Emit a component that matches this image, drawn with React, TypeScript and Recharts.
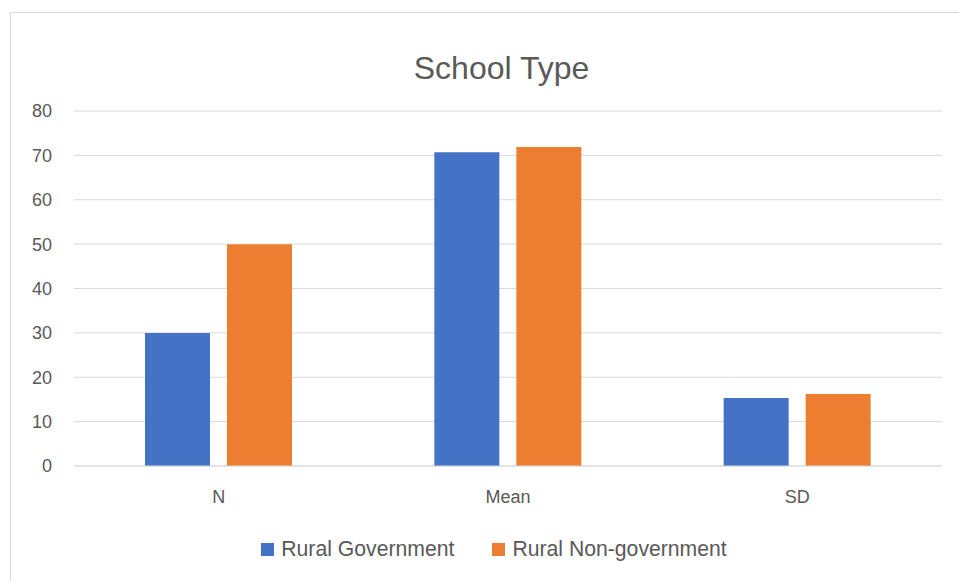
import React from 'react';
import { BarChart, Bar, XAxis, YAxis, CartesianGrid, Legend } from 'recharts';

const categories = ['N', 'Mean', 'SD'];
const ruralGovernment = [30, 70.7, 15.3];
const ruralNonGovernment = [50, 71.9, 16.2];
const yTicks = [0, 10, 20, 30, 40, 50, 60, 70, 80];

const SERIES = [
  { key: 'gov', name: 'Rural Government', color: '#4472C4' },
  { key: 'nonGov', name: 'Rural Non-government', color: '#ED7D31' },
];

const data = categories.map((c, i) => ({
  name: c,
  gov: ruralGovernment[i],
  nonGov: ruralNonGovernment[i],
}));

const FONT = '"Liberation Sans", Arial, sans-serif';
const TEXT = '#595959';

const LegendContent = () => (
  <div style={{ display: 'flex', justifyContent: 'center', gap: 38, fontFamily: FONT, fontSize: 21.2, lineHeight: '24px', color: TEXT }}>
    {SERIES.map((s) => (
      <div key={s.key} style={{ display: 'flex', alignItems: 'center' }}>
        <span style={{ width: 13, height: 13, background: s.color, display: 'inline-block', marginRight: 7 }} />
        <span>{s.name}</span>
      </div>
    ))}
  </div>
);

export default function App() {
  return (
    <div style={{ position: 'absolute', left: 0, top: 0, width: 959, height: 581, overflow: 'hidden', background: '#fff' }}>
      <div style={{ position: 'absolute', left: 10, top: 12, width: 980, height: 600, border: '1px solid #d9d9d9' }} />
      <div style={{ position: 'absolute', left: 0, top: 50, width: 1003, textAlign: 'center', fontFamily: FONT, fontSize: 32, color: TEXT }}>
        School Type
      </div>
      <div style={{ position: 'absolute', left: 0, top: 0 }}>
        <BarChart
          width={959}
          height={581}
          data={data}
          margin={{ top: 111, right: 17, bottom: 0, left: 0 }}
          barGap={17}
          barSize={65}
        >
          <CartesianGrid vertical={false} stroke="#d9d9d9" strokeWidth={1} />
          <XAxis
            dataKey="name"
            height={91}
            axisLine={{ stroke: '#d9d9d9' }}
            tickLine={false}
            tickSize={22}
            tick={{ fill: TEXT, fontSize: 18, fontFamily: FONT }}
          />
          <YAxis
            domain={[0, 80]}
            ticks={yTicks}
            width={74}
            axisLine={false}
            tickLine={false}
            tickSize={20}
            tick={{ fill: TEXT, fontSize: 18, fontFamily: FONT }}
          />
          {SERIES.map((s) => (
            <Bar key={s.key} dataKey={s.key} name={s.name} fill={s.color} isAnimationActive={false} />
          ))}
          <Legend
            content={<LegendContent />}
            wrapperStyle={{ position: 'absolute', top: 537, left: 0, width: 988 }}
          />
        </BarChart>
      </div>
    </div>
  );
}
